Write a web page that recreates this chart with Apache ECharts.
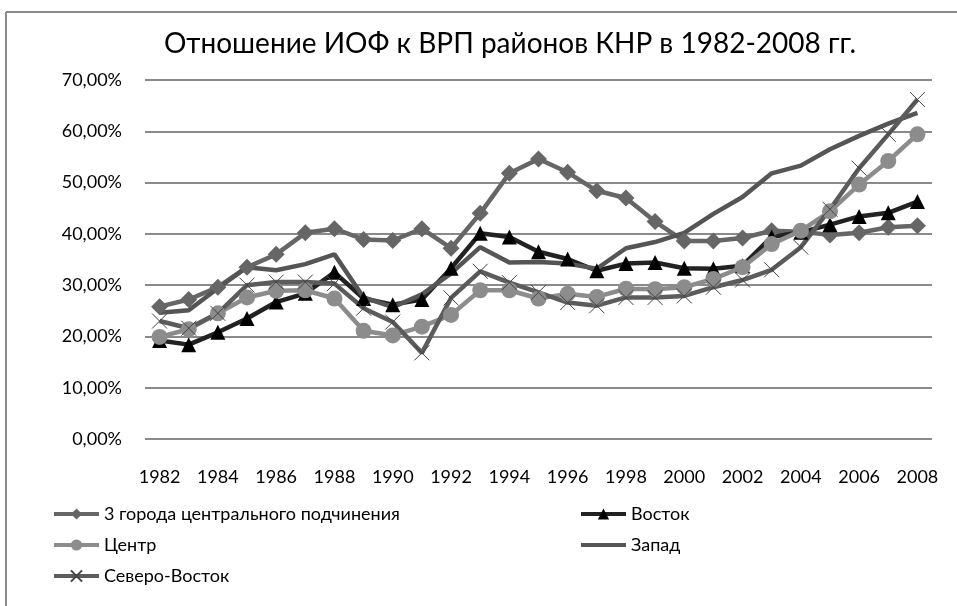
<!DOCTYPE html>
<html>
<head>
<meta charset="utf-8">
<script src="https://cdn.jsdelivr.net/npm/echarts@6/dist/echarts.min.js"></script>
<style>
  html, body { margin: 0; padding: 0; background: #fff; }
  #chart { width: 957px; height: 606px; }
</style>
</head>
<body>
<div id="chart"></div>
<script>
// годы
const years = ['1982', '1983', '1984', '1985', '1986', '1987', '1988', '1989', '1990', '1991',
  '1992', '1993', '1994', '1995', '1996', '1997', '1998', '1999', '2000', '2001',
  '2002', '2003', '2004', '2005', '2006', '2007', '2008']

// значения, %
const cities = [25.8, 27.2, 29.6, 33.5, 36.0, 40.2, 41.0, 38.9, 38.7, 41.0,
  37.2, 44.0, 51.8, 54.6, 52.0, 48.4, 47.0, 42.4, 38.6, 38.6,
  39.2, 40.6, 40.4, 39.8, 40.2, 41.3, 41.6]
const east = [19.2, 18.4, 20.8, 23.5, 26.7, 28.4, 32.5, 27.4, 26.2, 27.2,
  33.3, 40.1, 39.4, 36.5, 35.1, 32.8, 34.2, 34.4, 33.3, 33.2,
  33.8, 39.4, 40.3, 41.8, 43.4, 44.1, 46.3]
const center = [19.9, 21.4, 24.5, 27.6, 28.9, 29.0, 27.4, 21.1, 20.2, 21.9,
  24.2, 29.0, 29.0, 27.4, 28.3, 27.7, 29.3, 29.2, 29.6, 31.2,
  33.5, 38.0, 40.6, 44.4, 49.6, 54.2, 59.4]
const west = [24.6, 25.1, 29.4, 33.5, 32.9, 34.1, 36.0, 27.6, 25.7, 28.2,
  32.3, 37.4, 34.4, 34.5, 34.2, 33.2, 37.2, 38.4, 40.2, 43.9,
  47.2, 51.8, 53.3, 56.5, 59.1, 61.5, 63.6]
const northeast = [23.0, 21.6, 24.5, 30.0, 30.6, 30.6, 30.3, 25.5, 22.8, 16.8,
  27.5, 32.7, 30.5, 28.6, 26.6, 26.0, 27.6, 27.6, 27.9, 29.6,
  31.0, 33.0, 37.4, 44.8, 52.8, 59.4, 66.2]

const names = ['3 города центрального подчинения', 'Восток', 'Центр', 'Запад', 'Северо-Восток']
const yTicks = [0, 10, 20, 30, 40, 50, 60, 70]

const font = 'Lato'
const chart = echarts.init(document.getElementById('chart'), null, {renderer: 'canvas'})

const legendText = {fontFamily: font, fontSize: 18, color: '#000'}

const option = {
  backgroundColor: '#fff',
  animation: false,
  title: {
    text: 'Отношение ИОФ к ВРП районов КНР в 1982-2008 гг.',
    left: 505,
    top: 25,
    textAlign: 'center',
    textStyle: {fontFamily: font, fontSize: 28, fontWeight: 'normal', color: '#000'}
  },
  graphic: [
    {type: 'line', shape: {x1: 6, y1: 12, x2: 957, y2: 12}, style: {stroke: '#8a8a8a', lineWidth: 2}},
    {type: 'line', shape: {x1: 6, y1: 12, x2: 6, y2: 606}, style: {stroke: '#8a8a8a', lineWidth: 2}}
  ],
  legend: [
    {
      left: 47, top: 500, orient: 'vertical', itemGap: 13,
      itemWidth: 45, itemHeight: 14,
      lineStyle: {width: 4},
      data: [names[0], names[2], names[4]],
      textStyle: legendText
    },
    {
      left: 574, top: 500, orient: 'vertical', itemGap: 13,
      itemWidth: 45, itemHeight: 14,
      lineStyle: {width: 4},
      data: [names[1], {name: names[3], icon: 'path://M0,0 L45,0 L45,4 L0,4 Z'}],
      textStyle: legendText
    }
  ],
  grid: {left: 145, right: 25, top: 80, bottom: 167},
  xAxis: {
    type: 'category',
    data: years,
    axisLine: {show: false},
    axisTick: {show: false},
    axisLabel: {interval: 1, fontFamily: font, fontSize: 18, color: '#000', margin: 29}
  },
  yAxis: {
    type: 'value',
    min: 0,
    max: 70,
    interval: 10,
    axisLine: {show: false},
    axisTick: {show: false},
    splitLine: {lineStyle: {color: '#8a8a8a', width: 2}},
    axisLabel: {
      fontFamily: font, fontSize: 18, color: '#000', margin: 23,
      formatter: v => yTicks.includes(v) ? v.toFixed(2).replace('.', ',') + '%' : ''
    }
  },
  series: [
    {
      name: names[0], type: 'line', data: cities,
      symbol: 'diamond', symbolSize: 17,
      lineStyle: {color: '#666', width: 4.5},
      itemStyle: {color: '#666'}
    },
    {
      name: names[1], type: 'line', data: east,
      symbol: 'triangle', symbolSize: 15,
      lineStyle: {color: '#222', width: 4.5},
      itemStyle: {color: '#000'}
    },
    {
      name: names[2], type: 'line', data: center,
      symbol: 'circle', symbolSize: 16,
      lineStyle: {color: '#8c8c8c', width: 4.5},
      itemStyle: {color: '#8c8c8c'}
    },
    {
      name: names[3], type: 'line', data: west,
      symbol: 'none',
      lineStyle: {color: '#555', width: 4.5},
      itemStyle: {color: '#555'}
    },
    {
      name: names[4], type: 'line', data: northeast,
      symbol: 'path://M0,0 L10,10 M10,0 L0,10', symbolSize: 15,
      lineStyle: {color: '#5c5c5c', width: 4.5},
      itemStyle: {color: 'none', borderColor: '#444', borderWidth: 1}
    }
  ]
}
chart.setOption(option)
</script>
</body>
</html>
